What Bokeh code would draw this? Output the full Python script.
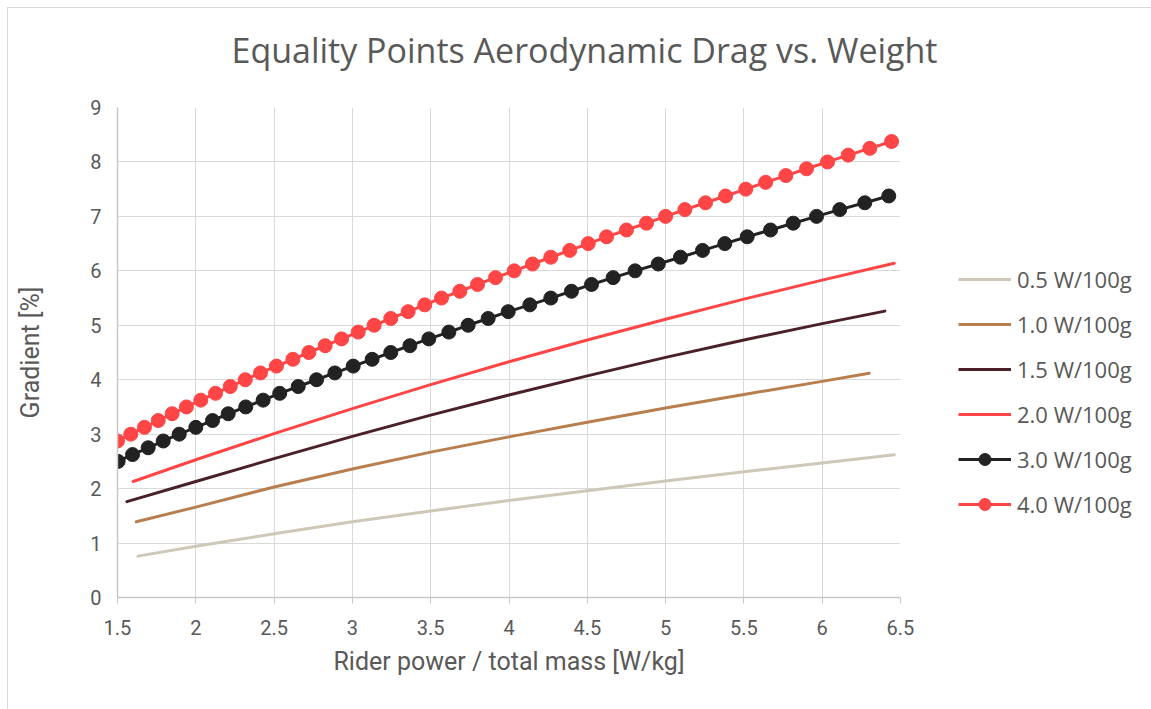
from bokeh.plotting import figure
from bokeh.models import Legend, LegendItem, Label, FixedTicker
from bokeh.layouts import row, column
from bokeh.embed import file_html
from bokeh.resources import INLINE

# ---- data ----
x_05 = [1.63, 2.0, 2.5, 3.0, 3.5, 4.0, 4.5, 5.0, 5.5, 6.0, 6.46]
y_05 = [0.76, 0.94, 1.17, 1.39, 1.59, 1.78, 1.96, 2.14, 2.31, 2.47, 2.62]

x_10 = [1.62, 2.0, 2.5, 3.0, 3.5, 4.0, 4.5, 5.0, 5.5, 6.0, 6.3]
y_10 = [1.39, 1.66, 2.03, 2.36, 2.67, 2.95, 3.22, 3.48, 3.73, 3.97, 4.12]

x_15 = [1.56, 2.0, 2.5, 3.0, 3.5, 4.0, 4.5, 5.0, 5.5, 6.0, 6.4]
y_15 = [1.76, 2.13, 2.55, 2.96, 3.35, 3.72, 4.07, 4.41, 4.73, 5.03, 5.26]

x_20 = [1.6, 2.0, 2.5, 3.0, 3.5, 4.0, 4.5, 5.0, 5.5, 6.0, 6.46]
y_20 = [2.13, 2.53, 3.01, 3.47, 3.91, 4.33, 4.73, 5.11, 5.48, 5.83, 6.14]

x_30 = [1.504, 1.596, 1.696, 1.792, 1.894, 2.0, 2.107, 2.207, 2.319, 2.430,
        2.536, 2.654, 2.771, 2.888, 3.005, 3.126, 3.245, 3.367, 3.488, 3.616,
        3.739, 3.867, 3.995, 4.133, 4.267, 4.399, 4.527, 4.665, 4.805, 4.953,
        5.095, 5.236, 5.378, 5.521, 5.670, 5.815, 5.964, 6.112, 6.272, 6.425]
y_30 = [2.5, 2.625, 2.75, 2.875, 3.0, 3.125, 3.25, 3.375, 3.5, 3.625,
        3.75, 3.875, 4.0, 4.125, 4.25, 4.375, 4.5, 4.625, 4.75, 4.875,
        5.0, 5.125, 5.25, 5.375, 5.5, 5.625, 5.75, 5.875, 6.0, 6.125,
        6.25, 6.375, 6.5, 6.625, 6.75, 6.875, 7.0, 7.125, 7.25, 7.375]

x_40 = [1.50, 1.585, 1.672, 1.760, 1.849, 1.940, 2.032, 2.126, 2.220, 2.316,
        2.413, 2.515, 2.620, 2.722, 2.826, 2.931, 3.037, 3.139, 3.245, 3.356,
        3.462, 3.569, 3.686, 3.799, 3.914, 4.033, 4.150, 4.267, 4.388, 4.506,
        4.623, 4.750, 4.878, 5.000, 5.123, 5.255, 5.383, 5.512, 5.639, 5.768,
        5.900, 6.034, 6.166, 6.304, 6.443]
y_40 = [2.875, 3.0, 3.125, 3.25, 3.375, 3.5, 3.625, 3.75, 3.875, 4.0,
        4.125, 4.25, 4.375, 4.5, 4.625, 4.75, 4.875, 5.0, 5.125, 5.25,
        5.375, 5.5, 5.625, 5.75, 5.875, 6.0, 6.125, 6.25, 6.375, 6.5,
        6.625, 6.75, 6.875, 7.0, 7.125, 7.25, 7.375, 7.5, 7.625, 7.75,
        7.875, 8.0, 8.125, 8.25, 8.375]

series_names = ["0.5 W/100g", "1.0 W/100g", "1.5 W/100g", "2.0 W/100g",
                "3.0 W/100g", "4.0 W/100g"]
series_colors = ["#cfc7b8", "#b97e4e", "#4a2128", "#ff4545", "#222222", "#ff4545"]
x_ticks = [1.5, 2, 2.5, 3, 3.5, 4, 4.5, 5, 5.5, 6, 6.5]
y_ticks = [0, 1, 2, 3, 4, 5, 6, 7, 8, 9]

title_text = "Equality Points Aerodynamic Drag vs. Weight"
x_label = "Rider power / total mass [W/kg]"
y_label = "Gradient [%]"

# ---- styling ----
GRAY_TXT = "#595959"
GRID = "#d9d9d9"
AXFONT = "Roboto"
MAIN = "Open Sans"
LW = 3
MS = 14
NAN = float("nan")

def bare(fig):
    fig.axis.visible = False
    fig.grid.visible = False
    fig.outline_line_color = None
    return fig

# ---- title strip ----
p_title = bare(figure(width=1144, height=80, x_range=(0, 1144), y_range=(0, 80),
                      output_backend="svg", toolbar_location=None,
                      min_border=0, min_border_left=0, min_border_right=0,
                      min_border_top=0, min_border_bottom=0))
p_title.add_layout(Label(x=576, y=39, text=title_text, text_align="center",
                         text_baseline="middle", text_font=MAIN,
                         text_font_size="34px", text_color=GRAY_TXT))

# ---- main chart ----
p = figure(width=933, height=622, x_range=(1.5, 6.5), y_range=(0, 9),
           output_backend="svg", toolbar_location=None,
           min_border_left=109, min_border_right=41,
           min_border_top=19, min_border_bottom=113,
           background_fill_color="white", border_fill_color="white",
           outline_line_color=None)

p.xaxis.ticker = FixedTicker(ticks=x_ticks)
p.yaxis.ticker = FixedTicker(ticks=y_ticks)
p.xgrid.ticker = FixedTicker(ticks=x_ticks)
p.ygrid.ticker = FixedTicker(ticks=y_ticks)
p.xaxis.major_label_overrides = {t: (str(t) if t != int(t) else str(int(t))) for t in x_ticks}

for g in (p.xgrid, p.ygrid):
    g.grid_line_color = GRID
    g.grid_line_width = 1

for ax in (p.xaxis, p.yaxis):
    ax.axis_line_color = "#c8c8c8"
    ax.axis_line_width = 1.5
    ax.minor_tick_line_color = None
    ax.major_label_text_color = GRAY_TXT
    ax.major_label_text_font = AXFONT
    ax.major_label_text_font_size = "20px"
    ax.axis_label_text_color = GRAY_TXT
    ax.axis_label_text_font = AXFONT
    ax.axis_label_text_font_size = "25px"
    ax.axis_label_text_font_style = "normal"

p.xaxis.major_tick_line_color = "#c8c8c8"
p.xaxis.major_tick_out = 6
p.xaxis.major_tick_in = 0
p.xaxis.major_label_standoff = 16
p.xaxis.axis_label = x_label
p.xaxis.axis_label_standoff = 9

p.yaxis.major_tick_line_color = None
p.yaxis.major_tick_out = 0
p.yaxis.major_tick_in = 0
p.yaxis.major_label_standoff = 16
p.yaxis.axis_label = y_label
p.yaxis.axis_label_standoff = 42

line_data = [(x_05, y_05), (x_10, y_10), (x_15, y_15), (x_20, y_20)]
for (xs, ys), col in zip(line_data, series_colors[:4]):
    p.line(xs, ys, line_color=col, line_width=LW, line_join="round", line_cap="round")
for (xs, ys), col in zip([(x_30, y_30), (x_40, y_40)], series_colors[4:]):
    p.line(xs, ys, line_color=col, line_width=LW, line_join="round")
    p.scatter(xs, ys, size=MS, fill_color=col, line_color=col)

# ---- legend strip (glyph styles mirror the series above) ----
p_leg = bare(figure(width=211, height=622, x_range=(0, 1), y_range=(0, 1),
                    output_backend="svg", toolbar_location=None,
                    min_border=0, min_border_left=0, min_border_right=0,
                    min_border_top=0, min_border_bottom=0))
items = []
for i, (name, col) in enumerate(zip(series_names, series_colors)):
    rs = [p_leg.line([NAN], [NAN], line_color=col, line_width=LW)]
    if i >= 4:
        rs.append(p_leg.scatter([NAN], [NAN], size=MS, fill_color=col, line_color=col))
    items.append(LegendItem(label=name, renderers=rs))

legend = Legend(items=items, location=(17, 78), orientation="vertical",
                border_line_color=None, background_fill_alpha=0,
                padding=0, margin=0, spacing=15,
                glyph_width=53, glyph_height=30, label_height=30,
                label_standoff=6,
                label_text_font=MAIN, label_text_font_size="22px",
                label_text_color=GRAY_TXT)
p_leg.add_layout(legend, "center")

layout = column(p_title, row(p, p_leg, spacing=0), spacing=0,
                styles={"margin-left": "7px", "margin-top": "7px",
                        "border-left": "1px solid #d9d9d9",
                        "border-top": "1px solid #d9d9d9"})

open("out.html", "w").write(file_html(layout, INLINE))
